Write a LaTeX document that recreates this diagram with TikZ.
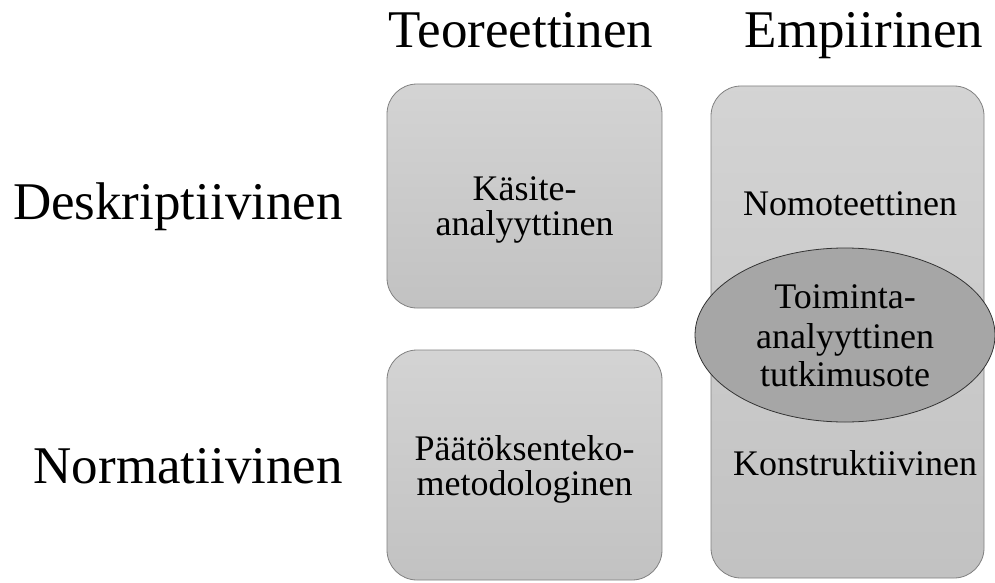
\documentclass[tikz,border=0pt]{standalone}
\usepackage{fontspec}
\setmainfont{Liberation Serif}
\setsansfont{Liberation Serif}
\usetikzlibrary{shapes.geometric, positioning}

\begin{document}
\begin{tikzpicture}[
    x=1pt, y=-1pt,
    box/.style={rectangle, rounded corners=30pt, draw=black!50, line width=0.8pt,
                top color=black!17, bottom color=black!24,
                align=center, font=\rmfamily\fontsize{36}{37}\selectfont},
    oval/.style={ellipse, draw=black!80, line width=0.8pt, fill=black!35,
                 minimum width=300pt, minimum height=174pt, inner sep=0pt,
                 align=center, font=\rmfamily\fontsize{36}{39}\selectfont},
    head/.style={font=\rmfamily\fontsize{53}{60}\selectfont, inner sep=0pt, anchor=base},
    intext/.style={font=\rmfamily\fontsize{36}{39}\selectfont, inner sep=0pt, anchor=base}
]
\useasboundingbox (0,0) rectangle (995,583);

% column and row headings
\node[head] (teor) at (521,48) {Teoreettinen};
\node[head] (empi) at (864,48) {Empiirinen};
\node[head, anchor=base east] (deskr) at (343,219) {Deskriptiivinen};
\node[head, anchor=base east] (norma) at (343,483) {Normatiivinen};

% theoretical boxes
\node[box, minimum width=275pt, minimum height=224pt] (kasite) at (524.5,196) {};
\node[box, minimum width=275pt, minimum height=230pt] (paatos) at (524.5,465) {};
\node[intext] (kas1) at (524.5,200) {Käsite-};
\node[intext] (kas2) at (524.5,235) {analyyttinen};
\node[intext] (paa1) at (524.5,460) {Päätöksenteko-};
\node[intext] (paa2) at (524.5,495) {metodologinen};

% empirical box
\node[box, minimum width=273pt, minimum height=492pt] (empbox) at (847.5,332) {};
\node[intext] (nomo)  at (850,215) {Nomoteettinen};
\node[intext] (konst) at (855,475) {Konstruktiivinen};

\node[oval] (toim) at (845,335) {};
\node[intext] (toim1) at (845,308) {Toiminta-};
\node[intext] (toim2) at (845,348) {analyyttinen};
\node[intext] (toim3) at (845,386) {tutkimusote};

\end{tikzpicture}
\end{document}
